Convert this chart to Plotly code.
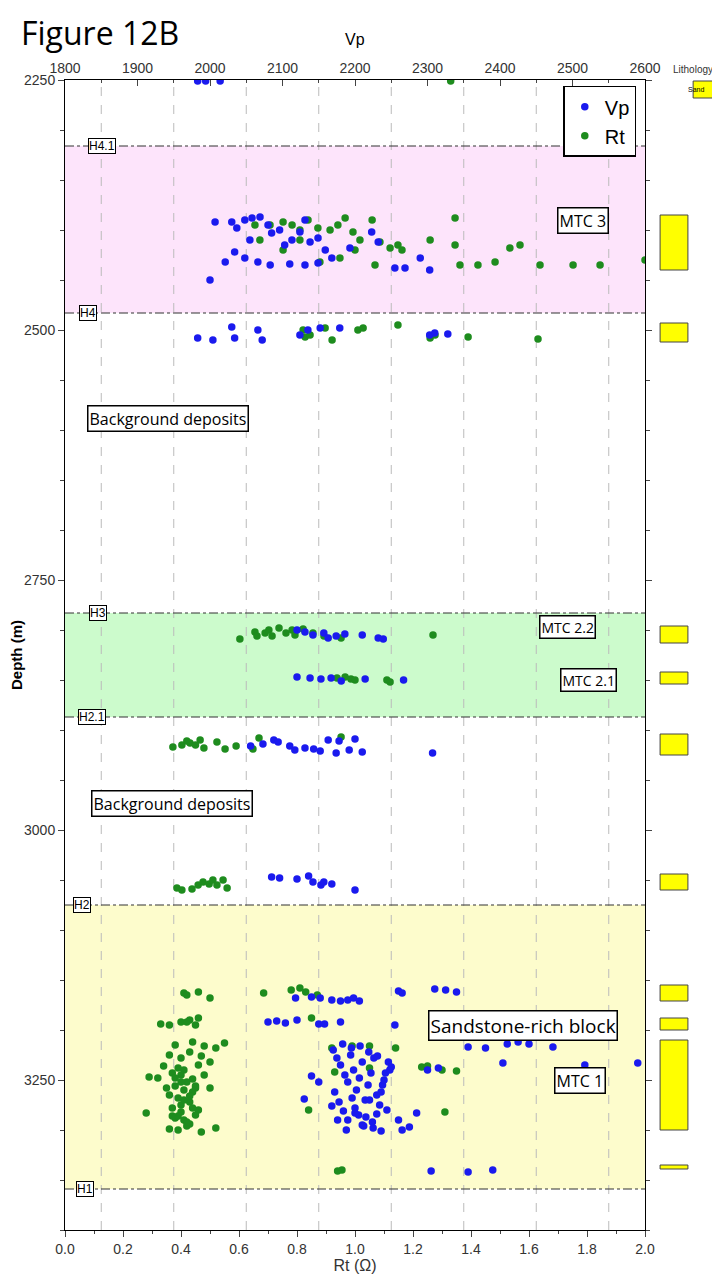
import plotly.graph_objects as go

# ---- data ----
vp_vals = [2007, 2030, 2037, 2048, 2058, 2069, 2080, 2085, 2096, 2103, 2113, 2124, 2138, 2149, 2159, 2168,
           2193, 2223, 2232, 2255, 2269, 2290, 2303, 2034, 2048, 2066, 2083, 2110, 2131, 2149, 2000, 2021, 2055,
           2131,
           1983, 2004, 2030, 2034, 2066, 2072, 2124, 2135, 2152, 2179, 2303, 2310, 2328,
           1983, 1994, 2014,
           2120, 2131, 2142, 2157, 2163, 2174, 2186, 2210, 2232, 2239,
           2120, 2138, 2153, 2167, 2181, 2214, 2267,
           2056, 2073, 2088, 2094, 2110, 2117, 2131, 2143, 2152, 2163, 2174, 2178, 2192, 2200, 2210, 2307,
           2085, 2096, 2120, 2136, 2142, 2153, 2157, 2168, 2200,
           2118, 2140, 2152, 2168, 2180, 2190, 2198, 2206, 2260, 2265, 2310, 2325, 2340,
           2080, 2092, 2104, 2120, 2150, 2158, 2180, 2255,
           2356, 2380, 2410, 2425, 2440, 2473, 2330, 2320,
           2404, 2517, 2590, 2300, 2315,
           2305, 2356, 2390,
           2170, 2175, 2180, 2186, 2190, 2194, 2198, 2202, 2206, 2210, 2214, 2218, 2222, 2226, 2230, 2234, 2238,
           2242, 2246, 2248, 2172, 2178, 2184, 2190, 2196, 2200, 2205, 2210, 2215, 2220, 2225, 2230, 2236, 2240,
           2168, 2176, 2188, 2200, 2212, 2224, 2236, 2244, 2183, 2195, 2207, 2219, 2231, 2140, 2150, 2130, 2260,
           2275, 2285, 2250, 2265]
vp_depth = [2392, 2392, 2398, 2390, 2388, 2387, 2395, 2403, 2400, 2415, 2410, 2402, 2412, 2408, 2420, 2428,
            2418, 2402, 2412, 2438, 2438, 2428, 2440, 2422, 2428, 2432, 2435, 2434, 2435, 2433, 2450, 2432, 2410,
            2390,
            2508, 2510, 2497, 2508, 2500, 2510, 2505, 2500, 2498, 2498, 2505, 2503, 2504,
            2251, 2251, 2251,
            2800, 2802, 2805, 2803, 2808, 2806, 2804, 2805, 2808, 2809,
            2847, 2848, 2849, 2848, 2851, 2849, 2850,
            2916, 2914, 2910, 2912, 2916, 2920, 2918, 2919, 2921, 2910, 2923, 2911, 2920, 2909, 2922, 2923,
            3047, 3048, 3049, 3046, 3052, 3055, 3052, 3054, 3060,
            3168, 3167, 3168, 3170, 3171, 3170, 3168, 3171, 3161, 3163, 3159, 3160, 3162,
            3192, 3191, 3193, 3190, 3194, 3194, 3192, 3195,
            3217, 3218, 3214, 3212, 3214, 3217, 3195, 3194,
            3233, 3235, 3233, 3240, 3238,
            3341, 3342, 3340,
            3220, 3228, 3235, 3245, 3252, 3225, 3240, 3260, 3248, 3232, 3270, 3255, 3243, 3228, 3265, 3275, 3255,
            3243, 3232, 3240, 3262, 3272, 3281, 3290, 3268, 3278, 3285, 3295, 3287, 3270, 3298, 3284, 3262, 3250,
            3276, 3290, 3300, 3283, 3296, 3292, 3301, 3280, 3214, 3218, 3216, 3222, 3226, 3246, 3252, 3269, 3290,
            3297, 3283, 3237, 3300]

rt_vals = [0.655, 0.707, 0.752, 0.783, 0.838, 0.872, 0.914, 0.941, 0.966, 0.993, 1.017, 1.059, 1.086, 1.121,
           1.148, 1.162, 1.259, 1.345, 1.345, 1.362, 1.424, 1.483, 1.534, 1.569, 1.638, 1.752, 1.845, 2.0,
           0.81, 0.879, 0.948, 1.0, 1.069, 0.672, 0.81, 0.752,
           0.821, 0.828, 0.845, 0.897, 0.921, 1.010, 1.028, 1.148, 1.259, 1.276, 1.39, 1.631,
           1.33,
           0.603, 0.655, 0.662, 0.69, 0.703, 0.714, 0.738, 0.762, 0.783, 0.793, 0.821, 0.855, 0.893, 0.952, 1.269,
           0.938, 0.966, 0.986, 1.0, 1.11, 1.121,
           0.372, 0.403, 0.431, 0.466, 0.479, 0.524, 0.552, 0.59, 0.648, 0.669, 0.952, 0.42, 0.45,
           0.386, 0.403, 0.438, 0.459, 0.476, 0.497, 0.51, 0.524, 0.545, 0.559,
           0.41, 0.42, 0.46, 0.50, 0.40, 0.43, 0.46, 0.33, 0.36, 0.42, 0.45, 0.55, 0.52, 0.48, 0.38, 0.44,
           0.36, 0.40, 0.43, 0.47, 0.50, 0.34, 0.39, 0.41, 0.46, 0.29, 0.32, 0.37, 0.40, 0.44, 0.48, 0.35,
           0.38, 0.42, 0.45, 0.50, 0.28, 0.36, 0.39, 0.41, 0.44, 0.37, 0.40, 0.43, 0.46, 0.52, 0.38, 0.41,
           0.43, 0.45, 0.39, 0.42, 0.47, 0.40, 0.44, 0.36, 0.41, 0.43, 0.39, 0.42, 0.37, 0.40, 0.45, 0.38,
           0.685, 0.78, 0.81, 0.83, 0.87, 0.85, 0.92, 0.99, 1.05, 1.14, 1.05, 0.93, 1.23, 1.25, 1.30, 1.35,
           1.31, 0.84, 0.94, 0.955]
rt_depth = [2395, 2395, 2392, 2395, 2390, 2398, 2400, 2395, 2388, 2402, 2410, 2390, 2412, 2418, 2415, 2420,
            2410, 2388, 2415, 2435, 2435, 2432, 2418, 2415, 2435, 2435, 2435, 2430, 2410, 2432, 2428, 2420,
            2435, 2410, 2400, 2420,
            2500, 2507, 2505, 2498, 2510, 2500, 2498, 2495, 2508, 2505, 2507, 2509,
            2251,
            2809, 2802, 2806, 2803, 2800, 2806, 2798, 2803, 2800, 2805, 2799, 2803, 2806, 2808, 2805,
            2848, 2847, 2849, 2850, 2850, 2852,
            2917, 2915, 2913, 2910, 2918, 2912, 2919, 2916, 2919, 2908, 2907, 2911, 2915,
            3058, 3060, 3059, 3055, 3052, 3054, 3050, 3055, 3050, 3058,
            3163, 3165, 3162, 3168, 3192, 3190, 3188, 3194, 3195, 3192, 3195, 3213, 3218, 3216, 3215, 3212,
            3225, 3228, 3222, 3226, 3232, 3236, 3238, 3240, 3235, 3247, 3248, 3243, 3245, 3249, 3245, 3258,
            3256, 3252, 3258, 3258, 3283, 3265, 3268, 3260, 3262, 3278, 3275, 3272, 3280, 3298, 3288, 3290,
            3294, 3285, 3300, 3296, 3302, 3282, 3278, 3299, 3270, 3266, 3286, 3292, 3286, 3252, 3256, 3248,
            3163, 3160, 3158, 3162, 3165, 3188, 3218, 3216, 3216, 3218, 3238, 3242, 3237, 3236, 3240, 3241,
            3282, 3280, 3341, 3340]

horizon_names = ["H4.1", "H4", "H3", "H2.1", "H2", "H1"]
horizon_depths = [2316, 2483, 2783, 2887, 3075, 3359]

zones = [(2316, 2483, "#fde4fb"), (2783, 2887, "#ccfbcc"), (3075, 3359, "#fdfccc")]

litho_top = [2385, 2493, 2796, 2842, 2904, 3044, 3155, 3188, 3210, 3335]
litho_base = [2440, 2512, 2813, 2854, 2925, 3060, 3171, 3200, 3300, 3339]

vp_grid = [1850, 1950, 2050, 2150, 2250, 2350, 2450, 2550]

FONT = "Liberation Sans Narrow, Liberation Sans, Arial"

fig = go.Figure()
fig.add_trace(go.Scatter(x=vp_vals, y=vp_depth, xaxis="x2", mode="markers", name="Vp",
                         marker=dict(color="#1a1aee", size=7.5)))
fig.add_trace(go.Scatter(x=rt_vals, y=rt_depth, mode="markers", name="Rt",
                         marker=dict(color="#1e8c1e", size=7.5)))

shapes = []
for top, base, col in zones:
    shapes.append(dict(type="rect", xref="paper", yref="y", x0=0, x1=1, y0=top, y1=base,
                       fillcolor=col, line=dict(width=0), layer="below"))
for g in vp_grid:
    shapes.append(dict(type="line", xref="x2", yref="paper", x0=g, x1=g, y0=0, y1=1,
                       line=dict(color="#bbbbbb", width=1, dash="dash"), layer="below"))
for d in horizon_depths:
    shapes.append(dict(type="line", xref="paper", yref="y", x0=0, x1=1, y0=d, y1=d,
                       line=dict(color="#333333", width=1.2, dash="dashdot")))
for t, b in zip(litho_top, litho_base):
    shapes.append(dict(type="rect", xref="paper", yref="y", x0=1.026, x1=1.074, y0=t, y1=b,
                       fillcolor="#ffff00", line=dict(color="#444444", width=1)))
shapes.append(dict(type="rect", xref="paper", yref="y", x0=1.083, x1=1.126, y0=2251, y1=2268,
                   fillcolor="#ffff00", line=dict(color="#444444", width=1)))

annotations = []
hx = [0.064, 0.04, 0.057, 0.047, 0.029, 0.034]
for name, d, x in zip(horizon_names, horizon_depths, hx):
    annotations.append(dict(xref="paper", yref="y", x=x, y=d, xanchor="center", text=name, showarrow=False,
                            font=dict(family=FONT, size=12, color="black"),
                            bgcolor="white", bordercolor="black", borderwidth=1, borderpad=0))

def label(x, y, text, size):
    annotations.append(dict(xref="paper", yref="y", x=x, y=y, xanchor="center", text=text, showarrow=False,
                            font=dict(family="Open Sans, Liberation Sans", size=size, color="black"),
                            bgcolor="white", bordercolor="black", borderwidth=1.5, borderpad=1))

label(0.893, 2390, "MTC 3", 16)
label(0.178, 2588, "Background deposits", 16)
label(0.867, 2797, "MTC 2.2", 14)
label(0.902, 2850, "MTC 2.1", 14)
label(0.184, 2973, "Background deposits", 16)
label(0.79, 3195, "Sandstone-rich block", 19)
label(0.888, 3250, "MTC 1", 16)

annotations.append(dict(xref="paper", yref="paper", x=-0.08, y=1.062, xanchor="left", yanchor="top",
                        text="Figure 12B", showarrow=False,
                        font=dict(family="Open Sans, Liberation Sans", size=32, color="black")))
annotations.append(dict(xref="paper", yref="paper", x=0.5, y=1.035, yanchor="middle",
                        text="Vp", showarrow=False, font=dict(family=FONT, size=16, color="black")))
annotations.append(dict(xref="paper", yref="paper", x=1.12, y=1.003, xanchor="right", yanchor="bottom",
                        text="Lithology", showarrow=False, font=dict(family=FONT, size=10, color="#333")))
annotations.append(dict(xref="paper", yref="y", x=1.105, y=2259, text="Sand", showarrow=False,
                        font=dict(family=FONT, size=7, color="black")))

fig.update_layout(
    width=712, height=1272,
    margin=dict(l=57, r=75, t=72, b=50),
    plot_bgcolor="white", paper_bgcolor="white",
    shapes=shapes, annotations=annotations,
    font=dict(family=FONT, size=14, color="#333"),
    legend=dict(x=0.985, y=0.995, xanchor="right", yanchor="top", bordercolor="black", borderwidth=1.5,
                bgcolor="white", font=dict(family=FONT, size=20, color="black"), itemwidth=30),
    xaxis=dict(range=[0, 2], dtick=0.2, tickformat=".1f", showgrid=False, zeroline=False, automargin=False,
               showline=True, linecolor="black", ticks="outside", ticklen=6,
               minor=dict(ticks="outside", ticklen=3, dtick=0.1),
               title=dict(text="Rt (Ω)", font=dict(size=16), standoff=4)),
    xaxis2=dict(range=[1800, 2600], dtick=100, overlaying="x", side="top", showgrid=False, automargin=False,
                zeroline=False, showline=True, linecolor="black", ticks="inside", ticklen=6,
                minor=dict(ticks="inside", ticklen=3, dtick=50)),
    yaxis=dict(range=[3400, 2250], tickvals=[2250, 2500, 2750, 3000, 3250], showgrid=False, automargin=False,
               zeroline=False, showline=True, linecolor="black", mirror="ticks", ticks="outside",
               ticklen=6, minor=dict(ticks="outside", ticklen=4, dtick=50),
               title=dict(text="<b>Depth (m)</b>", font=dict(size=15, color="black"), standoff=2)),
)

fig.write_html("out.html")
